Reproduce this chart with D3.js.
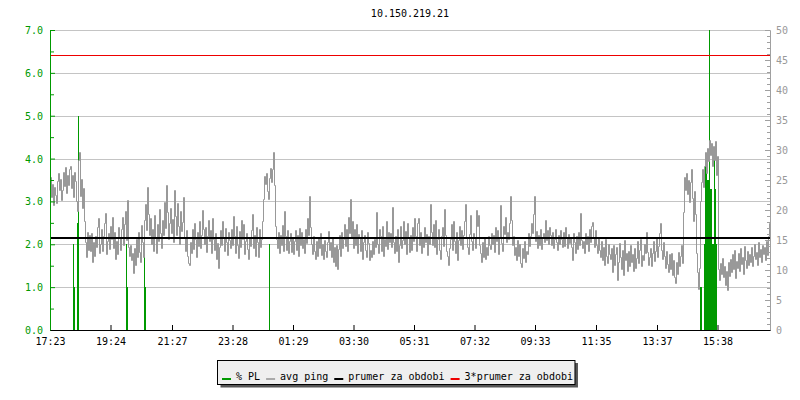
<!DOCTYPE html>
<html>
<head>
<meta charset="utf-8">
<script src="https://cdn.jsdelivr.net/npm/d3@7"></script>
<style>
  body { margin: 0; background: #fff; }
  svg { display: block; }
  text { font-family: "DejaVu Sans Mono", monospace; font-size: 10px; }
</style>
</head>
<body>
<svg id="chart" width="800" height="400"></svg>
<script>
// x axis tick labels (time of day, chart spans 24h from 17:23)
var tickLabels = ["17:23", "19:24", "21:27", "23:28", "01:29", "03:30",
                  "05:31", "07:32", "09:33", "11:35", "13:37", "15:38"];

// avg ping in ms, one sample every 2 minutes from 17:23
var ping = [
  25.5,22.1,24.3,20.8,23.9,22.5,21.2,24.8,26.1,23.4, 25.2,21.7,23.3,26.4,24.0,27.2,22.8,25.9,24.1,26.8,
  27.3,23.6,25.8,22.1,26.4,24.9,21.5,19.8,28.3,29.6, 22.4,25.1,20.3,23.7,18.2,14.6,12.1,16.3,13.4,15.8,
  13.2,16.1,11.4,14.7,12.3,15.6,13.9,17.2,18.7,12.8, 14.4,16.9,13.1,15.7,17.8,19.5,12.6,14.9,16.2,13.5,
  17.4,15.1,18.8,13.6,16.3,11.9,14.8,12.7,17.1,15.4, 13.3,16.8,18.9,14.2,17.6,19.8,15.0,21.7,13.8,12.4,
  14.1,11.6,12.9,9.5,13.7,10.8,15.2,12.1,16.4,13.0, 11.3,17.5,14.6,12.2,18.3,21.0,16.7,23.8,19.4,15.9,
  18.6,14.3,16.9,13.2,19.1,15.5,12.8,17.7,14.9,20.2, 16.1,13.6,18.4,15.8,21.3,17.0,24.1,19.6,15.2,17.9,
  20.4,16.2,18.5,14.7,23.4,19.0,15.8,21.1,17.3,14.4, 19.8,16.5,18.0,22.1,15.3,13.1,16.6,12.4,11.2,10.9,
  14.6,12.8,16.9,13.5,17.8,15.1,12.2,16.4,14.0,18.1, 13.7,15.9,20.0,16.8,14.3,17.2,13.0,15.6,18.4,14.8,
  16.7,12.9,18.7,15.2,13.4,16.1,11.8,14.5,10.3,13.9, 16.6,14.1,18.2,15.4,13.2,17.0,14.7,12.5,16.3,15.0,
  13.6,16.8,14.2,19.0,15.7,12.9,17.4,14.1,12.0,16.5, 13.8,18.3,15.1,17.6,12.7,14.9,16.2,13.5,11.8,15.3,
  14.0,16.6,19.4,13.7,15.9,12.4,17.1,14.6,12.2,16.8, 13.9,15.2,18.1,21.9,25.6,24.3,26.2,23.1,21.8,25.4,
  27.0,24.6,26.8,29.7,24.2,17.3,15.1,13.6,16.4,12.8, 15.9,14.2,17.5,13.1,19.8,15.6,13.4,16.7,12.9,14.8,
  16.2,13.0,15.4,12.6,14.9,16.6,13.3,15.8,12.4,17.0, 14.1,16.3,13.7,15.2,12.8,16.9,14.5,18.7,15.9,22.4,
  17.1,14.3,12.7,15.6,13.2,11.9,14.8,12.3,15.4,13.6, 16.1,12.5,14.4,11.8,15.0,13.1,12.2,14.7,16.5,13.3,
  14.6,12.1,15.3,11.4,13.8,10.7,14.2,10.1,13.5,15.9, 12.3,16.4,13.7,15.1,17.6,14.0,16.8,13.2,18.8,16.1,
  21.8,15.4,18.2,13.6,16.9,14.1,17.7,12.8,16.0,15.3, 13.1,16.6,11.9,14.7,15.8,13.4,12.2,16.3,14.5,11.6,
  13.4,12.1,14.9,12.6,15.2,13.8,19.7,14.4,12.9,16.8, 15.6,13.2,17.4,12.3,15.1,14.0,18.2,13.5,16.4,14.7,
  16.1,13.9,20.5,14.6,12.8,15.7,13.1,16.9,11.4,14.2, 17.3,13.6,15.0,18.1,14.4,16.5,12.7,17.9,15.3,13.0,
  15.8,13.4,17.1,14.9,18.7,15.6,13.2,17.9,18.6,14.1, 16.3,12.9,15.5,13.8,17.2,14.6,16.0,12.5,15.7,14.3,
  21.0,16.4,14.2,17.7,13.9,18.3,12.6,15.1,16.8,13.3, 11.9,15.6,17.1,14.0,20.1,15.9,13.2,12.4,10.8,13.7,
  15.2,17.6,13.4,18.1,14.8,12.9,16.3,11.7,15.0,17.4, 14.1,16.7,13.5,15.8,18.2,21.0,15.5,13.9,12.6,16.0,
  19.2,14.8,13.3,16.1,15.4,13.7,20.0,17.3,19.1,14.2, 12.8,11.4,14.6,12.2,15.3,11.9,13.8,12.5,15.7,14.1,
  13.5,16.2,14.4,15.9,13.0,17.1,14.8,16.6,12.7,15.3, 20.8,14.5,13.2,17.4,16.0,18.9,14.7,16.3,15.1,17.8,
  22.3,18.4,14.1,15.7,12.5,13.9,11.6,15.0,12.3,14.4, 11.2,10.5,13.6,12.0,14.8,11.4,13.1,12.6,16.2,14.0,
  15.6,17.9,16.1,19.4,22.3,14.8,16.5,13.7,15.9,14.2, 16.8,13.5,15.4,16.2,14.6,18.3,15.0,16.7,14.3,17.1,
  15.8,14.1,16.4,13.6,15.2,16.9,14.7,13.4,15.9,14.4, 16.6,15.1,13.8,16.3,14.0,17.2,15.5,13.7,16.0,14.5,
  15.3,13.9,11.7,16.2,14.6,12.8,15.7,13.5,16.4,14.2, 19.5,15.0,13.6,14.9,12.9,16.1,14.3,15.6,13.2,16.8,
  14.7,17.3,18.0,15.4,13.8,16.6,14.1,12.9,15.5,13.3, 12.1,14.8,11.6,13.9,10.8,15.2,12.4,11.1,14.3,12.7,
  11.8,13.6,9.7,14.2,10.9,12.6,13.8,8.3,11.4,14.5, 12.2,10.1,13.4,9.2,15.0,11.7,12.9,9.8,13.1,10.6,
  14.1,11.3,12.7,9.9,13.6,10.4,12.0,14.9,11.1,13.3, 15.2,10.7,12.5,11.6,14.4,12.8,16.4,13.0,10.9,12.2,
  13.7,10.6,12.9,14.8,11.5,13.2,15.3,12.1,14.0,16.2, 17.8,13.4,11.8,14.6,12.3,10.4,13.1,11.0,9.6,12.7,
  10.2,12.9,9.1,11.6,8.8,7.8,11.3,9.4,13.0,10.7, 12.4,14.1,11.2,19.6,25.5,23.4,26.1,22.7,25.0,21.3,
  24.6,26.8,22.0,18.1,23.2,19.4,12.8,9.6,6.8,10.4, 21.5,24.7,26.9,23.8,27.3,29.6,26.2,30.4,28.1,31.7,
  29.2,31.2,27.4,30.6,28.3,31.5,25.8,29.0,10.1,8.4, 11.2,9.3,12.0,8.9,10.6,7.5,9.8,6.7,11.4,9.0,
  11.8,9.6,12.7,10.2,13.3,8.7,11.5,10.4,12.9,9.9, 13.6,11.0,12.2,9.4,14.0,11.7,10.3,13.1,10.9,12.6,
  11.4,13.8,10.6,12.4,14.3,11.9,13.0,10.8,14.6,12.1, 13.5,11.3,14.2,12.7,13.9,11.6,14.8,12.5,15.6,17.8
];
var pingStepMin = 2;

// packet loss samples (% PL): minutes after 17:23 and value
var plMinutes = [46, 48, 54, 56, 152, 154, 188, 190, 438,
                 1300, 1302, 1308, 1310, 1312, 1314, 1316, 1318, 1320,
                 1322, 1324, 1326, 1328, 1330, 1332];
var plValues  = [2.0, 1.0, 2.5, 5.0, 2.0, 1.0, 2.0, 1.0, 2.0,
                 1.0, 1.0, 2.0, 4.0, 4.0, 3.5, 3.5, 8.0, 3.3,
                 3.3, 2.0, 2.0, 4.1, 3.3, 2.0];
var plStepMin = 2;

// average ping over the period (ms)
var avgPing = 15.3;

var leftTicks = [0, 1, 2, 3, 4, 5, 6, 7];
var rightTicks = [0, 5, 10, 15, 20, 25, 30, 35, 40, 45, 50];

var legendItems = ["% PL", "avg ping", "prumer za obdobi", "3*prumer za obdobi"];

var green = "#009900", grey = "#999999", gridCol = "#c4c4c4", red = "#ee0000";
var legendColors = [green, "#aaaaaa", "#000000", red];

var svg = d3.select("#chart");
var L = 50, R = 770, T = 30, B = 330;

var start = new Date(2024, 0, 1, 17, 23);
var end = d3.timeHour.offset(start, 24);

var x = d3.scaleTime().domain([start, end]).range([L, R]);
var yL = d3.scaleLinear().domain([0, 7]).range([B, T]);
var yR = d3.scaleLinear().domain([0, 50]).range([B, T]);

function parseTick(s) {
  var p = s.split(":").map(Number);
  var d = new Date(2024, 0, 1, p[0], p[1]);
  if (d < start) d = d3.timeDay.offset(d, 1);
  return d;
}

svg.append("rect").attr("width", 800).attr("height", 400).attr("fill", "#fff");

svg.append("defs").append("clipPath").attr("id", "plot")
  .append("rect").attr("x", L).attr("y", T).attr("width", R - L).attr("height", B - T);

// title
svg.append("text").attr("x", (L + R) / 2).attr("y", 17)
  .attr("text-anchor", "middle").attr("fill", "#000").text("10.150.219.21");

// grid lines
svg.append("g").selectAll("line")
  .data(leftTicks.filter(function(d) { return d > 0; }))
  .enter().append("line")
    .attr("x1", L).attr("x2", R)
    .attr("y1", function(d) { return Math.round(yL(d)) + 0.5; })
    .attr("y2", function(d) { return Math.round(yL(d)) + 0.5; })
    .attr("stroke", gridCol);

var plot = svg.append("g").attr("clip-path", "url(#plot)");

// packet loss bars
plot.selectAll(".pl")
  .data(plMinutes)
  .enter().append("rect")
    .attr("class", "pl")
    .attr("x", function(m) { return Math.round(x(d3.timeMinute.offset(start, m))); })
    .attr("width", function(m) {
      return Math.max(1, Math.round(x(d3.timeMinute.offset(start, m + plStepMin)) - x(d3.timeMinute.offset(start, m))));
    })
    .attr("y", function(m, i) { return Math.round(yL(plValues[i])); })
    .attr("height", function(m, i) { return B - Math.round(yL(plValues[i])); })
    .attr("fill", green);

// ping line
var pingData = ping.map(function(v, i) {
  return { t: d3.timeMinute.offset(start, i * pingStepMin), v: v };
});
pingData.push({ t: end, v: ping[ping.length - 1] });

var line = d3.line()
  .x(function(d) { return Math.round(x(d.t)) + 0.5; })
  .y(function(d) { return Math.round(yR(d.v)) + 0.5; })
  .curve(d3.curveStepAfter);

plot.append("path").datum(pingData)
  .attr("d", line)
  .attr("fill", "none")
  .attr("stroke", grey)
  .attr("stroke-width", 1);

// average and 3*average
plot.append("line")
  .attr("x1", L).attr("x2", R)
  .attr("y1", Math.round(yR(avgPing))).attr("y2", Math.round(yR(avgPing)))
  .attr("stroke", "#000").attr("stroke-width", 2);

plot.append("line")
  .attr("x1", L).attr("x2", R)
  .attr("y1", Math.round(yR(avgPing * 3)) + 0.5).attr("y2", Math.round(yR(avgPing * 3)) + 0.5)
  .attr("stroke", red).attr("stroke-width", 1);

// left axis (% PL)
var leftMinor = d3.range(0.5, 7, 1);
var gLm = svg.append("g").attr("transform", "translate(" + L + ",0)")
  .call(d3.axisLeft(yL).tickValues(leftMinor).tickSize(-4).tickSizeOuter(0).tickFormat(""));
var gL = svg.append("g").attr("transform", "translate(" + L + ",0)")
  .call(d3.axisLeft(yL).tickValues(leftTicks).tickSize(-5).tickSizeOuter(0)
        .tickPadding(7).tickFormat(d3.format(".1f")));
[gLm, gL].forEach(function(g) {
  g.selectAll("path, line").attr("stroke", green);
  g.selectAll("text").attr("fill", green).attr("dy", "0.35em");
  g.attr("font-size", null).attr("font-family", null);
});

// right axis (ping ms)
var gRm = svg.append("g").attr("transform", "translate(" + R + ",0)")
  .call(d3.axisRight(yR).ticks(50).tickSize(-3).tickSizeOuter(0).tickFormat(""));
var gR = svg.append("g").attr("transform", "translate(" + R + ",0)")
  .call(d3.axisRight(yR).tickValues(rightTicks).tickSize(-5).tickSizeOuter(0).tickPadding(6));
[gRm, gR].forEach(function(g) {
  g.selectAll("path, line").attr("stroke", "#a0a0a0");
  g.selectAll("text").attr("fill", grey).attr("dy", "0.35em");
  g.attr("font-size", null).attr("font-family", null);
});

// x axis
var gX = svg.append("g").attr("transform", "translate(0," + B + ")")
  .call(d3.axisBottom(x).tickValues(tickLabels.map(parseTick)).tickSize(-5).tickSizeOuter(0)
        .tickPadding(8).tickFormat(d3.timeFormat("%H:%M")));
gX.selectAll("path, line").attr("stroke", "#000");
gX.selectAll("text").attr("fill", "#000");
gX.attr("font-size", null).attr("font-family", null);

// redraw left axis line on top
svg.append("line").attr("x1", L + 0.5).attr("x2", L + 0.5).attr("y1", T).attr("y2", B)
  .attr("stroke", green);

// legend
var lg = svg.append("g");
var lx = 222, ly = 380;
var shadow = lg.append("rect").attr("fill", "#555");
var box = lg.append("rect").attr("fill", "#efefef").attr("stroke", "#000");
var xs = lx;
legendItems.forEach(function(name, i) {
  lg.append("rect").attr("x", xs).attr("y", ly - 2).attr("width", 9).attr("height", 2)
    .attr("fill", legendColors[i]);
  var t = lg.append("text").attr("x", xs + 14).attr("y", ly).attr("fill", "#000").text(name);
  xs = xs + 14 + t.node().getComputedTextLength() + 6;
});
var bx = lx - 4.5, bw = xs - 6 + 2 - bx;
box.attr("x", bx).attr("y", 360.5).attr("width", bw).attr("height", 24);
shadow.attr("x", bx + 3).attr("y", 363).attr("width", bw).attr("height", 24.5);
</script>
</body>
</html>
